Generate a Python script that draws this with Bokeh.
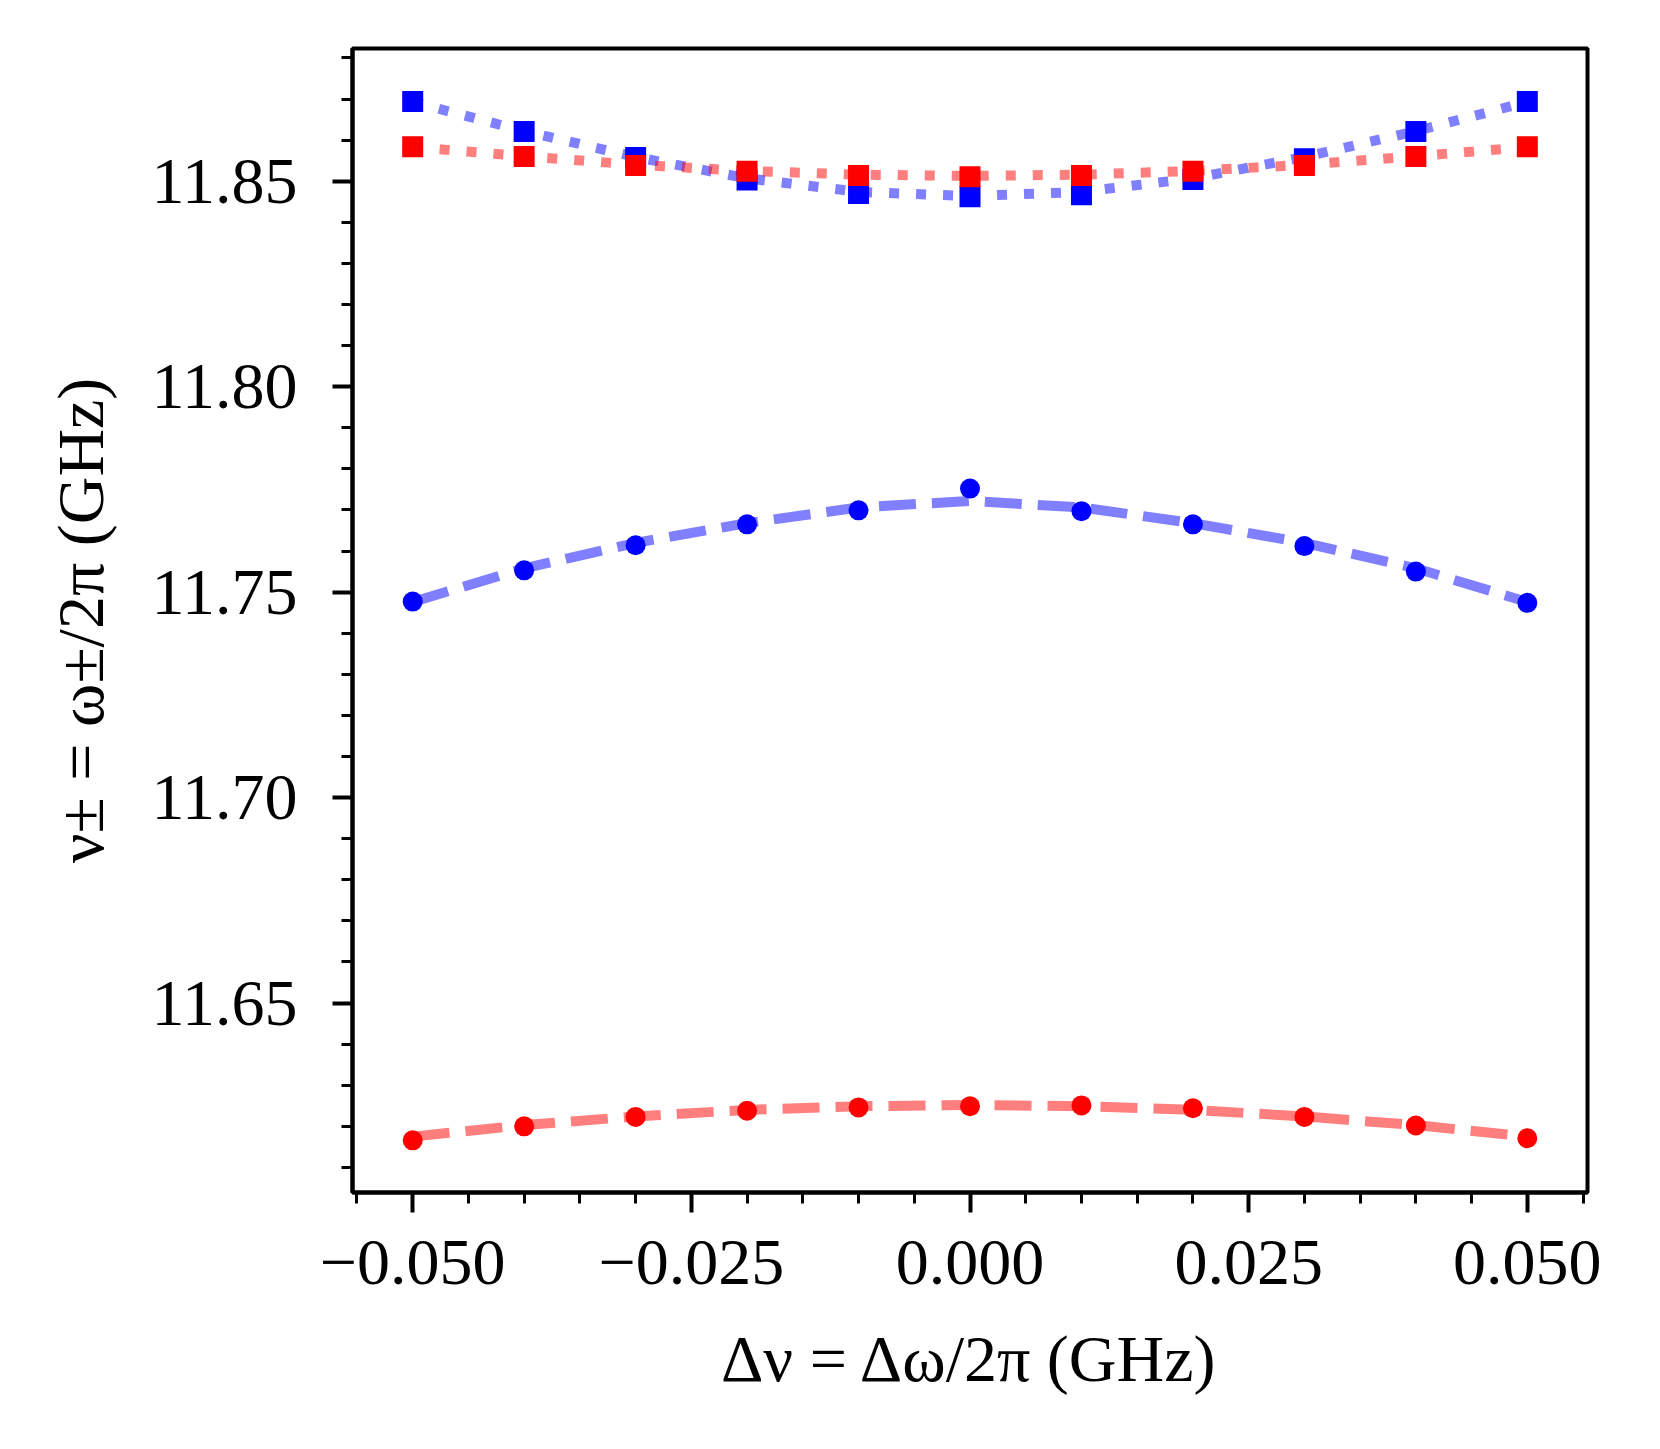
from bokeh.plotting import figure
from bokeh.models import FixedTicker, Range1d
from bokeh.embed import file_html
from bokeh.resources import INLINE

# ---- data ----
detuning = [-0.05, -0.04, -0.03, -0.02, -0.01, 0.0, 0.01, 0.02, 0.03, 0.04, 0.05]

# measured (markers)
lower_red = [11.6166, 11.6200, 11.6223, 11.6238, 11.6246, 11.6249, 11.6251, 11.6244, 11.6223, 11.6202, 11.6171]
lower_blue = [11.7477, 11.7553, 11.7614, 11.7665, 11.7699, 11.7752, 11.7697, 11.7665, 11.7612, 11.7550, 11.7474]
upper_blue = [11.8694, 11.8621, 11.8558, 11.8503, 11.8470, 11.8462, 11.8467, 11.8504, 11.8555, 11.8621, 11.8694]
upper_red = [11.8584, 11.8560, 11.8538, 11.8524, 11.8514, 11.8511, 11.8514, 11.8524, 11.8538, 11.8560, 11.8584]

# model curves (lines)
fit_lower_red = [11.6175, 11.6203, 11.6224, 11.6240, 11.6249, 11.6252, 11.6249, 11.6240, 11.6224, 11.6203, 11.6175]
fit_lower_blue = [11.7476, 11.7558, 11.7620, 11.7668, 11.7706, 11.7722, 11.7706, 11.7668, 11.7620, 11.7558, 11.7476]
fit_upper_blue = [11.8693, 11.8622, 11.8559, 11.8507, 11.8474, 11.8464, 11.8474, 11.8507, 11.8559, 11.8622, 11.8693]
fit_upper_red = [11.8583, 11.8561, 11.8540, 11.8525, 11.8516, 11.8513, 11.8516, 11.8525, 11.8540, 11.8561, 11.8583]

x_major = [-0.05, -0.025, 0.0, 0.025, 0.05]
x_labels = ["\u22120.050", "\u22120.025", "0.000", "0.025", "0.050"]
x_minor = [round(-0.055 + 0.005 * i, 3) for i in range(23)]
y_major = [11.65, 11.70, 11.75, 11.80, 11.85]
y_labels = ["11.65", "11.70", "11.75", "11.80", "11.85"]
y_minor = [round(11.60 + 0.01 * i, 2) for i in range(29)]

x_label = "\u0394\u03bd = \u0394\u03c9/2\u03c0 (GHz)"
y_label = "\u03bd\u00b1 = \u03c9\u00b1/2\u03c0 (GHz)"

FONT = "Liberation Serif"

p = figure(
    output_backend="svg", toolbar_location=None,
    frame_width=1235, frame_height=1144,
    min_border_left=352, min_border_top=48, min_border_right=60, min_border_bottom=245,
    x_range=Range1d(-0.0554, 0.0554), y_range=Range1d(11.6039, 11.8823),
)
p.grid.visible = False
p.background_fill_color = "white"
p.border_fill_color = "white"
p.outline_line_color = "black"
p.outline_line_width = 4

for ax, major, minor, labels in ((p.xaxis[0], x_major, x_minor, x_labels),
                                 (p.yaxis[0], y_major, y_minor, y_labels)):
    ax.ticker = FixedTicker(ticks=major, minor_ticks=minor)
    ax.major_label_overrides = {v: l for v, l in zip(major, labels)}
    ax.axis_line_width = 4
    ax.axis_line_color = "black"
    ax.major_tick_line_width = 4
    ax.minor_tick_line_width = 3
    ax.major_tick_out = 20
    ax.major_tick_in = 0
    ax.minor_tick_out = 11
    ax.minor_tick_in = 0
    ax.major_label_text_font = FONT
    ax.major_label_text_font_size = "66px"
    ax.major_label_text_color = "black"
    ax.axis_label_text_font = FONT
    ax.axis_label_text_font_size = "66px"
    ax.axis_label_text_font_style = "normal"
    ax.axis_label_text_color = "black"

p.xaxis[0].axis_label = x_label
p.yaxis[0].axis_label = y_label
p.xaxis[0].major_label_standoff = 28
p.yaxis[0].major_label_standoff = 35
p.xaxis[0].axis_label_standoff = 35
p.yaxis[0].axis_label_standoff = 31

# lines
p.line(detuning, fit_upper_blue, line_color="blue", line_alpha=0.5, line_width=10, line_dash="10 17")
p.line(detuning, fit_upper_red, line_color="red", line_alpha=0.5, line_width=10, line_dash="10 17")
p.line(detuning, fit_lower_blue, line_color="blue", line_alpha=0.5, line_width=10, line_dash="37 16")
p.line(detuning, fit_lower_red, line_color="red", line_alpha=0.5, line_width=10, line_dash="37 16")

# markers
p.scatter(detuning, lower_blue, marker="circle", size=20, fill_color="blue", line_color=None)
p.scatter(detuning, upper_blue, marker="square", size=21, fill_color="blue", line_color=None)
p.scatter(detuning, lower_red, marker="circle", size=20, fill_color="red", line_color=None)
p.scatter(detuning, upper_red, marker="square", size=21, fill_color="red", line_color=None)

open("out.html", "w").write(file_html(p, INLINE))
